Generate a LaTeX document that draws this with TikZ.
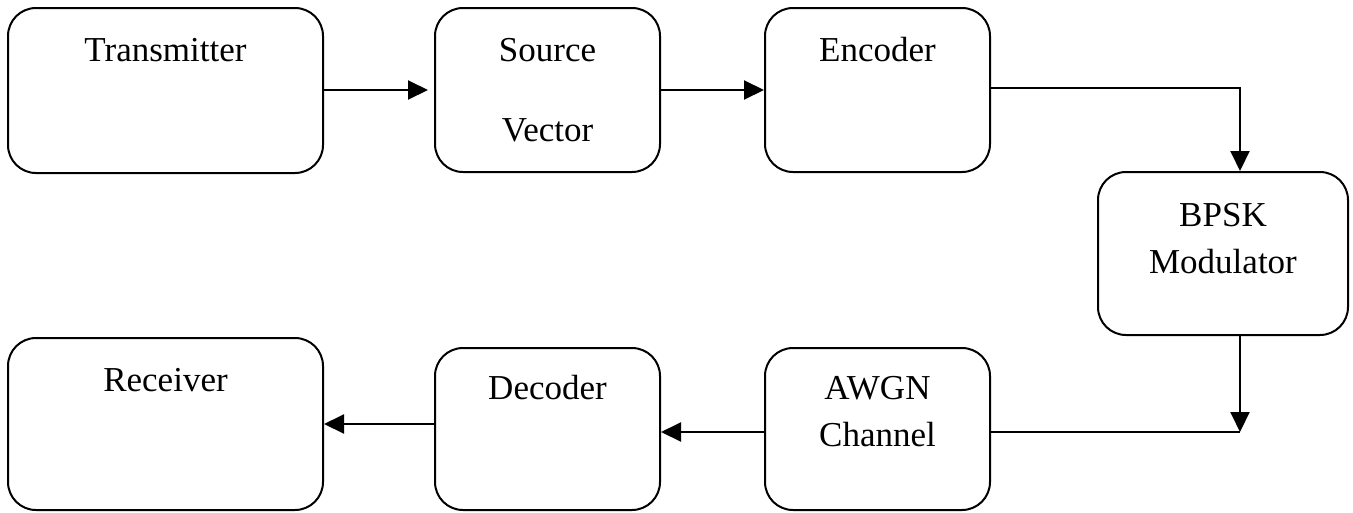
\documentclass[tikz,border=0pt]{standalone}
\usepackage{fontspec}
\setmainfont{Liberation Serif}
\usetikzlibrary{arrows.meta,calc}
\begin{document}
\begin{tikzpicture}[x=1pt,y=-1pt,
  box/.style={draw,line width=2pt,rounded corners=28pt,inner sep=0pt},
  lbl/.style={inner sep=0pt,font=\fontsize{35}{42}\selectfont},
  arr/.style={line width=2pt,-{Triangle[length=20pt,width=19pt]}},
  ln/.style={line width=2pt}]
\useasboundingbox (0,0) rectangle (1353,512);
% boxes
\node[box,minimum width=315pt,minimum height=165pt] (tx) at (165.5,90.5) {};
\node[box,minimum width=225pt,minimum height=164pt] (src) at (547.5,90) {};
\node[box,minimum width=225pt,minimum height=164pt] (enc) at (877.5,90) {};
\node[box,minimum width=250pt,minimum height=163pt] (bpsk) at (1223,253.5) {};
\node[box,minimum width=225pt,minimum height=162pt] (awgn) at (877.5,429) {};
\node[box,minimum width=225pt,minimum height=162pt] (dec) at (547.5,429) {};
\node[box,minimum width=315pt,minimum height=172pt] (rx) at (165.5,424) {};
% labels
\node[lbl] (txl) at (165.5,50) {Transmitter};
\node[lbl] (srcl1) at (547.5,50) {Source};
\node[lbl] (srcl2) at (547.5,130) {Vector};
\node[lbl] (encl) at (877.5,50) {Encoder};
\node[lbl] (bpskl1) at (1223,215) {BPSK};
\node[lbl] (bpskl2) at (1223,262) {Modulator};
\node[lbl] (awgnl1) at (877.5,388) {AWGN};
\node[lbl] (awgnl2) at (877.5,435) {Channel};
\node[lbl] (decl) at (547.5,388) {Decoder};
\node[lbl] (rxl) at (165.5,380) {Receiver};
% connectors
\coordinate (corner) at (1240,432);
\coordinate (ry) at (0,424);
\draw[arr,shorten >=6pt] (tx.east |- 0,90) -- (src.west |- 0,90);
\draw[arr] (src.east) -- (enc.west);
\draw[arr] (enc.east |- 0,88) -| ([xshift=17pt]bpsk.north);
\draw[arr] ([xshift=17pt]bpsk.south) -- (corner);
\draw[ln] (awgn.east |- corner) -- (corner);
\draw[arr] (awgn.west |- corner) -- (dec.east |- corner);
\draw[arr] (dec.west |- ry) -- (rx.east |- ry);
\end{tikzpicture}
\end{document}
